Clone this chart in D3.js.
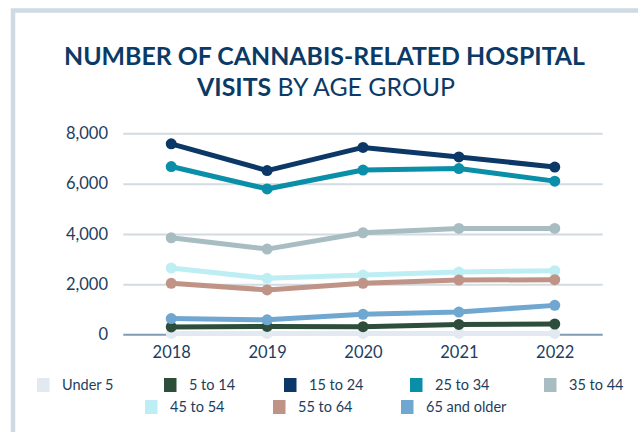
<!DOCTYPE html>
<html>
<head>
<meta charset="utf-8">
<script src="https://cdn.jsdelivr.net/npm/d3@7"></script>
<style>
  html, body { margin: 0; padding: 0; background: #ffffff; }
  svg { display: block; font-family: Lato, "Open Sans", sans-serif; }
</style>
</head>
<body>
<svg id="chart" width="638" height="432"></svg>
<script>
// Cannabis-related hospital visits by age group, 2018–2022
const years = ["2018", "2019", "2020", "2021", "2022"];
const ageGroups = ["Under 5", "5 to 14", "15 to 24", "25 to 34", "35 to 44", "45 to 54", "55 to 64", "65 and older"];
const under5   = [50, 50, 50, 50, 50];
const age5to14  = [310, 330, 320, 410, 425];
const age15to24 = [7580, 6520, 7440, 7060, 6660];
const age25to34 = [6680, 5790, 6540, 6600, 6100];
const age35to44 = [3850, 3400, 4050, 4220, 4220];
const age45to54 = [2650, 2240, 2370, 2490, 2540];
const age55to64 = [2040, 1780, 2040, 2170, 2185];
const age65plus = [640, 590, 810, 900, 1165];
const yTicks = [0, 2000, 4000, 6000, 8000];
const colors = ["#e2e9f0", "#2c4e3b", "#0b3866", "#0a8fa8", "#a7bdc1", "#bdeef4", "#bf9487", "#6fa7d0"];

const seriesValues = [under5, age5to14, age15to24, age25to34, age35to44, age45to54, age55to64, age65plus];
const series = ageGroups.map((name, i) => ({
  name, color: colors[i],
  points: years.map((y, j) => ({ year: y, value: seriesValues[i][j] }))
}));

const svg = d3.select("#chart");
const textColor = "#1d3d5e";

// Outer frame (top and left edges visible)
svg.append("rect")
  .attr("x", 13).attr("y", 10.5)
  .attr("width", 700).attr("height", 500)
  .attr("fill", "none")
  .attr("stroke", "#cfdae3")
  .attr("stroke-width", 4.5);

// Title
const title = svg.append("g").attr("fill", "#0b3a66");
function fitText(sel, target) {
  const w = sel.node().getComputedTextLength();
  sel.attr("textLength", target).attr("lengthAdjust", "spacingAndGlyphs");
  return w;
}
const t1 = title.append("text")
  .attr("x", 64).attr("y", 65)
  .attr("font-size", 25.5).attr("font-weight", 700)
  .text("NUMBER OF CANNABIS-RELATED HOSPITAL");
fitText(t1, 521);
const t2 = title.append("text")
  .attr("x", 197).attr("y", 96)
  .attr("font-size", 25.5);
t2.append("tspan").attr("font-weight", 700).text("VISITS");
t2.append("tspan").attr("font-weight", 400).text(" BY AGE GROUP");
fitText(t2, 258);

// Scales
const x = d3.scalePoint().domain(years).range([123.3, 602.7]).padding(0.5);
const y = d3.scaleLinear().domain([0, 8000]).range([334.7, 133.3]);

// Gridlines
const grid = svg.append("g")
  .attr("transform", "translate(123.3,0)")
  .call(d3.axisLeft(y).tickValues(yTicks.filter(d => d > 0)).tickSize(-479.4).tickFormat(""));
grid.select(".domain").remove();
grid.selectAll(".tick line").attr("stroke", "#d2dae2").attr("stroke-width", 2);

// Y axis labels
const yAxis = svg.append("g")
  .attr("transform", "translate(108,0)")
  .call(d3.axisLeft(y).tickValues(yTicks).tickSize(0).tickPadding(0).tickFormat(d3.format(",")));
yAxis.select(".domain").remove();
yAxis.selectAll("text")
  .attr("fill", textColor)
  .attr("font-family", "Lato, sans-serif")
  .attr("font-size", 16.5);

// Baseline at zero
svg.append("line")
  .attr("x1", 123.3).attr("x2", 602.7)
  .attr("y1", y(0)).attr("y2", y(0))
  .attr("stroke", "#7f9bb4").attr("stroke-width", 2);

// X axis labels
const xAxis = svg.append("g")
  .attr("transform", `translate(0,${y(0)})`)
  .call(d3.axisBottom(x).tickSize(0).tickPadding(12));
xAxis.select(".domain").remove();
xAxis.selectAll("text")
  .attr("fill", textColor)
  .attr("font-family", "Lato, sans-serif")
  .attr("font-size", 16.5);

// Lines and markers
const line = d3.line().x(d => x(d.year)).y(d => y(d.value));
const lines = svg.append("g");
series.forEach(s => {
  const g = lines.append("g");
  g.append("path")
    .datum(s.points)
    .attr("d", line)
    .attr("fill", "none")
    .attr("stroke", s.color)
    .attr("stroke-width", 5)
    .attr("stroke-linejoin", "round");
  g.selectAll("circle")
    .data(s.points)
    .join("circle")
    .attr("cx", d => x(d.year))
    .attr("cy", d => y(d.value))
    .attr("r", 5.5)
    .attr("fill", s.color);
});

// Legend
const legendPos = [
  [37, 385], [164, 385], [284, 385], [410, 385], [544, 385],
  [145, 407], [273, 407], [401, 407]
];
const legend = svg.append("g");
ageGroups.forEach((name, i) => {
  const [lx, ly] = legendPos[i];
  legend.append("rect")
    .attr("x", lx).attr("y", ly - 7)
    .attr("width", 12.5).attr("height", 14)
    .attr("fill", colors[i]);
  legend.append("text")
    .attr("x", lx + 25).attr("y", ly)
    .attr("dy", "0.35em")
    .attr("fill", textColor)
    .attr("font-size", 14.5)
    .text(name);
});
</script>
</body>
</html>
